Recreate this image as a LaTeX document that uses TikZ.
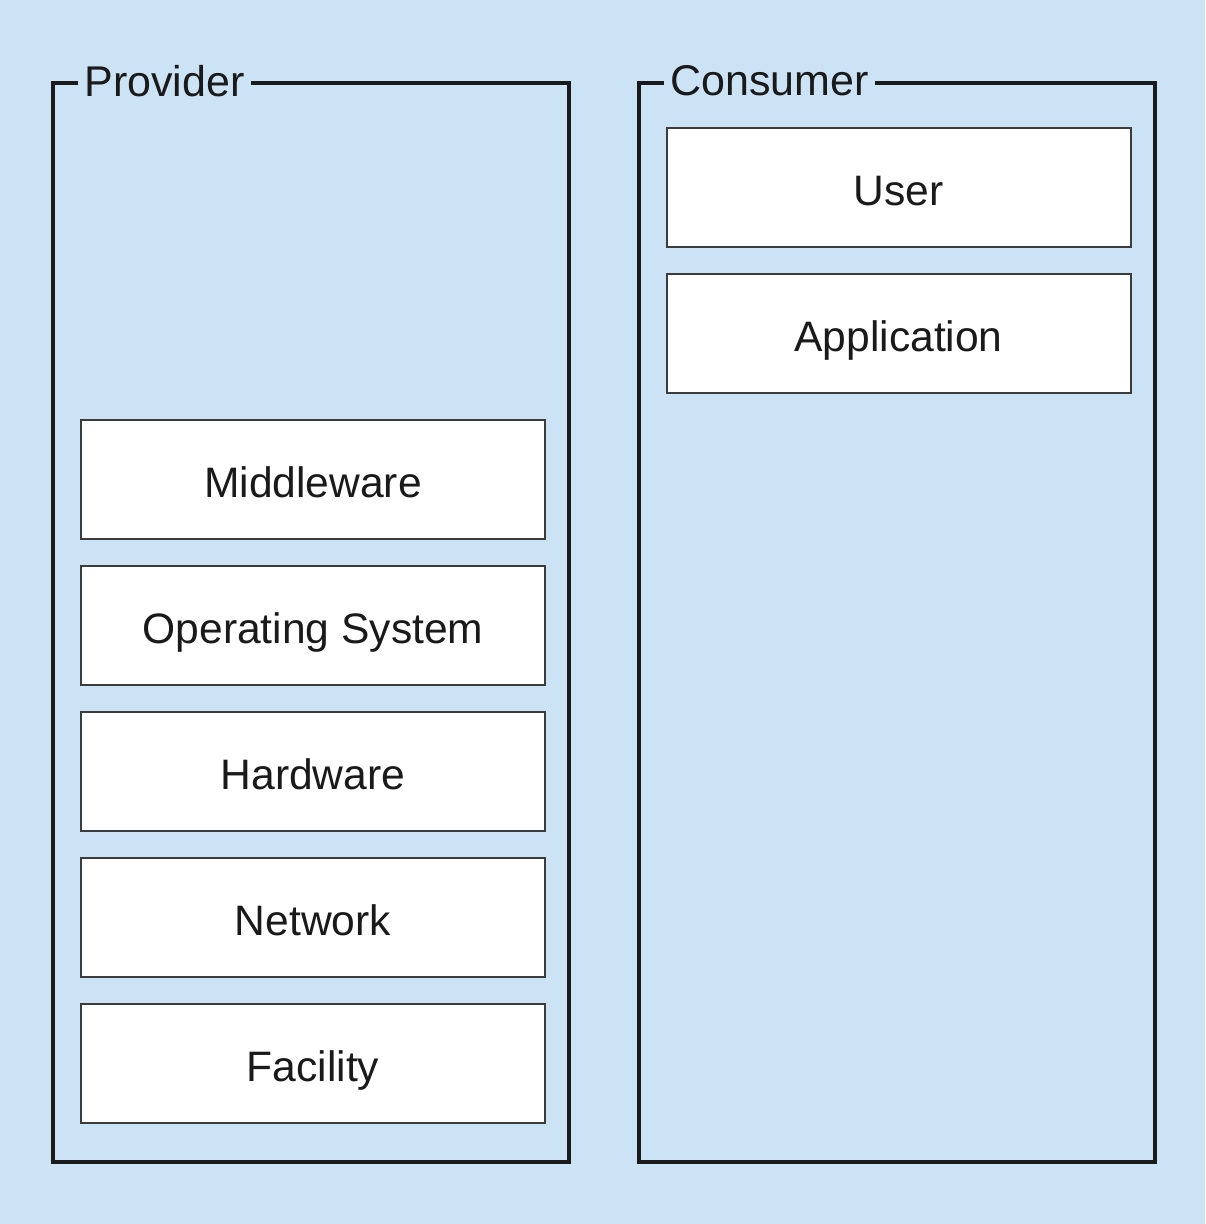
\documentclass[tikz,border=0pt]{standalone}
\usepackage{fontspec}
\setmainfont{Liberation Sans}
\definecolor{bg}{RGB}{204,226,245}
\definecolor{ink}{RGB}{26,26,26}
\begin{document}
\begin{tikzpicture}[x=0.5pt,y=-0.5pt,
  container/.style={draw=ink, line width=2pt, rectangle, minimum width=258pt, minimum height=539.5pt, inner sep=0pt},
  title/.style={fill=bg, text=ink, font=\fontsize{21.5}{25}\selectfont, inner xsep=3pt, inner ysep=1pt, anchor=west},
  layer/.style={draw=ink!85, line width=1pt, fill=white, rectangle, minimum width=232pt, minimum height=59.5pt, text=ink, font=\fontsize{21.3}{25}\selectfont, text height=18pt, text depth=0pt}]
\fill[bg] (0,0) rectangle (1205,1224);
\useasboundingbox (0,0) rectangle (1205,1224);
% containers
\node[container] (prov) at (311,622.5) {};
\node[container] (cons) at (897,622.5) {};
\node[title] (provt) at ([xshift=13.5pt]prov.north west) {Provider};
\node[title] (const) at ([xshift=13.5pt]cons.north west) {Consumer};
% provider layers
\node[layer] (mw) at (313,479.5) {Middleware};
\node[layer] (os) at (313,625.5) {Operating System};
\node[layer] (hw) at (313,771.5) {Hardware};
\node[layer] (nw) at (313,917.5) {Network};
\node[layer] (fa) at (313,1063.5) {Facility};
% consumer layers
\node[layer] (us) at (898.5,187.5) {User};
\node[layer] (ap) at (898.5,333.5) {Application};
\end{tikzpicture}
\end{document}
